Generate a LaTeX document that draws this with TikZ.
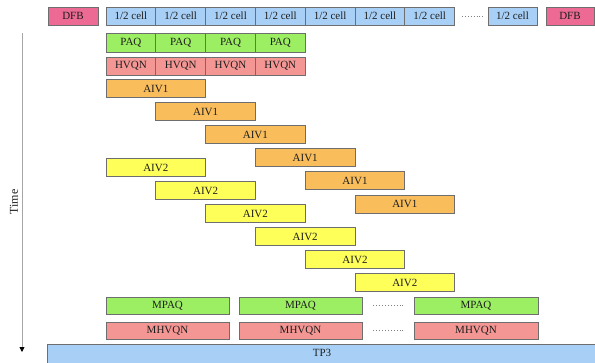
\documentclass[tikz,border=0pt]{standalone}
\usepackage{fontspec}
\setmainfont{Liberation Serif}
\usetikzlibrary{arrows.meta}
\definecolor{dfbc}{HTML}{EC6A93}
\definecolor{cellc}{HTML}{A8D0F7}
\definecolor{paqc}{HTML}{9CEF62}
\definecolor{hvqnc}{HTML}{F49694}
\definecolor{aivonec}{HTML}{F9BD5C}
\definecolor{aivtwoc}{HTML}{FFFF5A}
\definecolor{edgec}{HTML}{6E6E6E}
\definecolor{txtc}{HTML}{1E1E1E}
\tikzset{
  blk/.style={draw=edgec, line width=0.9pt, inner sep=0pt, text=txtc, font=\fontsize{11}{12}\selectfont},
  dotline/.style={line width=0.9pt, dash pattern=on 0.9pt off 2pt, draw=gray}
}
% \bx{name}{x1}{y1}{x2}{y2}{fill}{text}
\newcommand{\bx}[7]{%
  \node[blk, fill=#6, minimum width={(#4)-(#2)}, minimum height={(#5)-(#3)}]
    (#1) at ({((#2)+(#4))/2},{((#3)+(#5))/2}) {#7};}
\begin{document}
\begin{tikzpicture}[x=1pt,y=-1pt]
\useasboundingbox (0,0) rectangle (595,362);
\clip (0,0) rectangle (595,362);
\fill[white] (0,0) rectangle (595,362);
% top row
\bx{dfbl}{48}{7}{98}{25}{dfbc}{DFB}
\foreach \i in {0,...,6}{
  \bx{cell\i}{106+49.8*\i}{7}{155.8+49.8*\i}{25}{cellc}{1/2 cell}
}
\coordinate (tda) at (462,16);
\coordinate (tdb) at (483,16);
\draw[dotline] (tda) -- (tdb);
\bx{celllast}{488}{7}{537}{25}{cellc}{1/2 cell}
\bx{dfbr}{546}{7}{594}{25}{dfbc}{DFB}
% PAQ / HVQN
\foreach \i in {0,...,3}{
  \bx{paq\i}{106+49.8*\i}{33}{155.8+49.8*\i}{52}{paqc}{PAQ}
  \bx{hvqn\i}{106+49.8*\i}{57}{155.8+49.8*\i}{75}{hvqnc}{HVQN}
}
% AIV1 and AIV2
\foreach \i in {0,...,5}{
  \bx{aivone\i}{106+49.8*\i}{79.5+23.1*\i}{205.6+49.8*\i}{97.5+23.1*\i}{aivonec}{AIV1}
  \bx{aivtwo\i}{106+49.8*\i}{158.5+23*\i}{205.6+49.8*\i}{176.5+23*\i}{aivtwoc}{AIV2}
}
% MPAQ / MHVQN
\bx{mpaqa}{106}{297}{229}{314}{paqc}{MPAQ}
\bx{mpaqb}{239}{297}{362}{314}{paqc}{MPAQ}
\bx{mpaqc}{414}{297}{538}{314}{paqc}{MPAQ}
\bx{mhvqna}{106}{322}{229}{339}{hvqnc}{MHVQN}
\bx{mhvqnb}{239}{322}{362}{339}{hvqnc}{MHVQN}
\bx{mhvqnc}{414}{322}{538}{339}{hvqnc}{MHVQN}
\draw[dotline] (mpaqb.east) ++(11,0) coordinate (mda) -- ++(30,0) coordinate (mdb);
\draw[dotline] (mhvqnb.east) ++(11,0) coordinate (mdc) -- ++(30,0) coordinate (mdd);
% TP3
\bx{tp3}{47}{344}{597}{364}{cellc}{}
\node[text=txtc, font=\fontsize{11}{12}\selectfont] (tptxt) at (322,352.5) {TP3};
% time axis
\coordinate (ta) at (22,33);
\coordinate (tb) at (22,352);
\draw[gray!70, line width=0.8pt, -{Triangle[black,length=5pt,width=5pt]}] (ta) -- (tb);
\node[rotate=90, text=txtc, font=\fontsize{12}{13}\selectfont] (timelbl) at (14,202) {Time};
\end{tikzpicture}
\end{document}
